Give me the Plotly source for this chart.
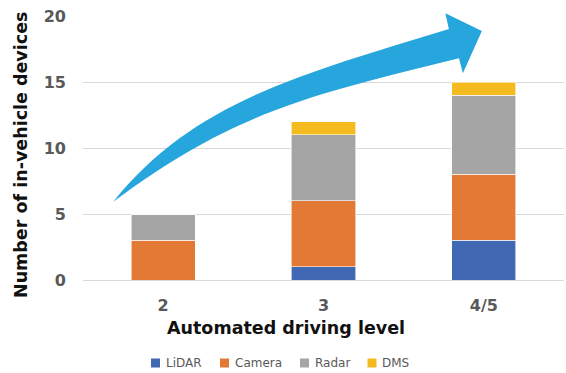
import plotly.graph_objects as go

# Stacked device counts per automated driving level
levels = ["2", "3", "4/5"]
series_names = ["LiDAR", "Camera", "Radar", "DMS"]
lidar = [0, 1, 3]
camera = [3, 5, 5]
radar = [2, 5, 6]
dms = [0, 1, 1]
series_values = [lidar, camera, radar, dms]
series_colors = ["#4169B3", "#E27934", "#A5A5A5", "#F5BA1D"]
y_ticks = [0, 5, 10, 15, 20]

W, H = 566, 373
ML, MR, MT, MB = 83, 2, 16, 93
PW, PH = W - ML - MR, H - MT - MB
X_RANGE = [-0.5, len(levels) - 0.5]
Y_RANGE = [0, 20]


def px_to_paper(px, py):
    return (px - ML) / PW, (H - MB - py) / PH


def data_to_paper(cx, vy):
    xp = (cx - X_RANGE[0]) / (X_RANGE[1] - X_RANGE[0])
    yp = (vy - Y_RANGE[0]) / (Y_RANGE[1] - Y_RANGE[0])
    return xp, yp


fig = go.Figure()
for name, vals, col in zip(series_names, series_values, series_colors):
    fig.add_trace(go.Bar(
        x=levels, y=vals, name=name,
        marker=dict(color=col, line=dict(color="rgba(255,255,255,0.75)", width=0.8)),
        showlegend=False,
    ))

# Curved growth arrow, defined in (category position, value) units
arrow_pts = {
    "tail": (-0.311, 5.93),
    "up_c1": (0.191, 13.61),
    "up_c2": (0.889, 15.66),
    "up_end": (1.782, 19.02),
    "barb_top": (1.760, 20.20),
    "tip": (1.988, 18.86),
    "barb_bot": (1.869, 15.66),
    "lo_end": (1.845, 16.80),
    "lo_c2": (0.938, 14.07),
    "lo_c1": (0.436, 12.75),
}
P = {k: data_to_paper(*v) for k, v in arrow_pts.items()}


def f(k):
    return f"{P[k][0]:.4f},{P[k][1]:.4f}"


arrow_path = (
    f"M{f('tail')} C{f('up_c1')} {f('up_c2')} {f('up_end')} "
    f"L{f('barb_top')} L{f('tip')} L{f('barb_bot')} L{f('lo_end')} "
    f"C{f('lo_c2')} {f('lo_c1')} {f('tail')} Z"
)

shapes = [dict(type="path", xref="paper", yref="paper", path=arrow_path,
               fillcolor="#26A6DD", line=dict(width=0), layer="above")]

annotations = []
title_font = dict(family="DejaVu Sans", size=17.5, color="#111111", weight="bold")

ax, ay = px_to_paper(21, 155)
annotations.append(dict(text="Number of in-vehicle devices", xref="paper", yref="paper",
                        x=ax, y=ay, textangle=-90, showarrow=False,
                        xanchor="center", yanchor="middle", font=title_font))
ax, ay = px_to_paper(285.5, 328)
annotations.append(dict(text="Automated driving level", xref="paper", yref="paper",
                        x=ax, y=ay, showarrow=False,
                        xanchor="center", yanchor="middle", font=title_font))

# Legend row drawn below the axis title
legend_x = [151, 220, 300, 367.5]
legend_y = 363
sq = 9
for name, col, lx in zip(series_names, series_colors, legend_x):
    x0, y0 = px_to_paper(lx, legend_y + sq / 2)
    x1, y1 = px_to_paper(lx + sq, legend_y - sq / 2)
    shapes.append(dict(type="rect", xref="paper", yref="paper",
                       x0=x0, y0=y0, x1=x1, y1=y1,
                       fillcolor=col, line=dict(width=0)))
    tx, ty = px_to_paper(lx + sq + 3.5, legend_y)
    annotations.append(dict(text=name, xref="paper", yref="paper", x=tx, y=ty,
                            showarrow=False, xanchor="left", yanchor="middle",
                            font=dict(family="DejaVu Sans", size=12, color="#595959")))

tick_font = dict(family="DejaVu Sans", size=16, color="#595959", weight="bold")

fig.update_layout(
    width=W, height=H,
    margin=dict(l=ML, r=MR, t=MT, b=MB),
    paper_bgcolor="white", plot_bgcolor="white",
    barmode="stack", bargap=0.6,
    shapes=shapes, annotations=annotations,
    showlegend=False,
    xaxis=dict(range=X_RANGE, tickfont=tick_font, showgrid=False, showline=False,
               ticks="", ticklabelstandoff=14, fixedrange=True),
    yaxis=dict(range=Y_RANGE, tickvals=y_ticks, tickfont=tick_font,
               gridcolor="#D9D9D9", gridwidth=1.3, zeroline=True,
               zerolinecolor="#D9D9D9", zerolinewidth=1.3, showline=False,
               ticks="", ticklabelstandoff=16, fixedrange=True),
)

fig.write_html("out.html")
